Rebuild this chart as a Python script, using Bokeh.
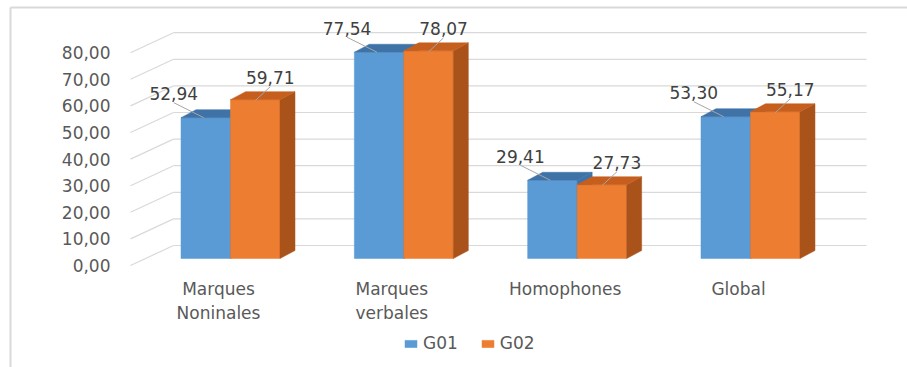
from bokeh.plotting import figure
from bokeh.models import Range1d, ColumnDataSource, Legend, LegendItem
from bokeh.core.properties import value
from bokeh.embed import file_html
from bokeh.resources import INLINE

# ---------------- data ----------------
categories = ["Marques\nNoninales", "Marques\nverbales", "Homophones", "Global"]
series_names = ["G01", "G02"]
g01 = [52.94, 77.54, 29.41, 53.30]
g02 = [59.71, 78.07, 27.73, 55.17]
y_ticks = [0, 10, 20, 30, 40, 50, 60, 70, 80]
y_tick_labels = ["0,00", "10,00", "20,00", "30,00", "40,00", "50,00", "60,00", "70,00", "80,00"]

# ---------------- layout (pixels) ----------------
W, H = 907, 367
X0_PX = 230.0      # pixel x of first category centre (junction of the two bars)
STEP_PX = 173.33   # pixel distance between categories
BASE_PX = 258.0    # pixel y of value 0 on the bar front plane
SCALE = 2.66       # pixels per value unit
BAR_W_PX = 49.5
DEPTH_DX_PX, DEPTH_DY_PX = 15.0, 8.0

FONT_NAME = "DejaVu Sans"
FONT = value(FONT_NAME)
FS = "17px"
TXT = "#595959"
GRID = "#D9D9D9"
BLUE, BLUE_TOP, BLUE_SIDE = "#5B9BD5", "#3F73A8", "#3F73A8"
ORANGE, ORANGE_TOP, ORANGE_SIDE = "#ED7D31", "#C65F1E", "#A9531B"


def dx(px):
    return px / STEP_PX


def dy(px):
    return px / SCALE


def X(px):
    return (px - X0_PX) / STEP_PX


def Y(px):
    return (BASE_PX - px) / SCALE


p = figure(width=W, height=H,
           x_range=Range1d(X(0), X(W)), y_range=Range1d(Y(H), Y(0)),
           output_backend="svg", toolbar_location=None,
           x_axis_location=None, y_axis_location=None, min_border=0)
p.grid.visible = False
p.outline_line_color = None
p.background_fill_color = "white"
p.border_fill_color = "white"

# chart-area border (top and left)
p.segment(x0=[X(10), X(10)], y0=[Y(7), Y(7)], x1=[X(W), X(10)], y1=[Y(7), Y(H)],
          line_color="#D9D9D9", line_width=2)

# 3D wall gridlines and side-wall diagonals
back_off = dy(13)
front_off = dy(-7)
p.segment(x0=[X(173)] * len(y_ticks), y0=[t + back_off for t in y_ticks],
          x1=[X(866)] * len(y_ticks), y1=[t + back_off for t in y_ticks],
          line_color=GRID, line_width=1.2)
p.segment(x0=[X(130)] * len(y_ticks), y0=[t + front_off for t in y_ticks],
          x1=[X(173)] * len(y_ticks), y1=[t + back_off for t in y_ticks],
          line_color=GRID, line_width=1.2)

# y tick labels
p.text(x=[X(110)] * len(y_ticks), y=[t + front_off for t in y_ticks], text=y_tick_labels,
       text_align="right", text_baseline="middle", text_font=FONT,
       text_font_size=FS, text_color=TXT)

# bars
w = dx(BAR_W_PX)
ddx = dx(DEPTH_DX_PX)
ddy = dy(DEPTH_DY_PX)


def bar_parts(vals, offset):
    lefts = [i + offset for i in range(len(vals))]
    rights = [l + w for l in lefts]
    tops_x = [[l, r, r + ddx, l + ddx] for l, r in zip(lefts, rights)]
    tops_y = [[v, v, v + ddy, v + ddy] for v in vals]
    side_x = [[r, r + ddx, r + ddx, r] for r in rights]
    side_y = [[0, ddy, v + ddy, v] for v in vals]
    return lefts, rights, tops_x, tops_y, side_x, side_y


renderers = []
for vals, off, cf, ct, cs in [(g01, -w, BLUE, BLUE_TOP, BLUE_SIDE),
                              (g02, 0.0, ORANGE, ORANGE_TOP, ORANGE_SIDE)]:
    lefts, rights, tx, ty, sx, sy = bar_parts(vals, off)
    r = p.quad(left=lefts, right=rights, bottom=[0] * len(vals), top=vals,
               fill_color=cf, line_color=cf, line_width=0.5)
    p.patches(xs=sx, ys=sy, fill_color=cs, line_color=cs, line_width=0.5)
    p.patches(xs=tx, ys=ty, fill_color=ct, line_color=ct, line_width=0.5)
    renderers.append(r)

# value labels with leader lines
for vals, off, lab_dx, lab_dy, end_dx, end_dy in [
        (g01, -w / 2, -32, 24, -2, 0),
        (g02, w / 2, 15, 22, 0, -1)]:
    cx = [i + off for i in range(len(vals))]
    lx = [c + dx(lab_dx) for c in cx]
    ly = [v + dy(lab_dy) for v in vals]
    p.segment(x0=lx, y0=[y - dy(9) for y in ly],
              x1=[c + dx(end_dx) for c in cx], y1=[v + dy(end_dy) for v in vals],
              line_color="#A6A6A6", line_width=1)
    p.text(x=lx, y=ly, text=[f"{v:.2f}".replace(".", ",") for v in vals],
           text_align="center", text_baseline="middle", text_font=FONT,
           text_font_size=FS, text_color="#404040")

# category labels
p.text(x=[i + dx(-12) for i in range(len(categories))], y=[Y(278)] * len(categories),
       text=categories, text_align="center", text_baseline="top",
       text_font=FONT, text_font_size=FS, text_color=TXT, text_line_height=1.2)

legend = Legend(items=[LegendItem(label=n, renderers=[r]) for n, r in zip(series_names, renderers)],
                orientation="horizontal", location=(403, 14),
                padding=0, margin=0, spacing=22, label_standoff=5,
                glyph_width=15, glyph_height=9, label_height=20,
                border_line_color=None, background_fill_alpha=0,
                label_text_font=FONT_NAME, label_text_font_size=FS, label_text_color=TXT)
p.add_layout(legend)

open("out.html", "w").write(file_html(p, INLINE))
